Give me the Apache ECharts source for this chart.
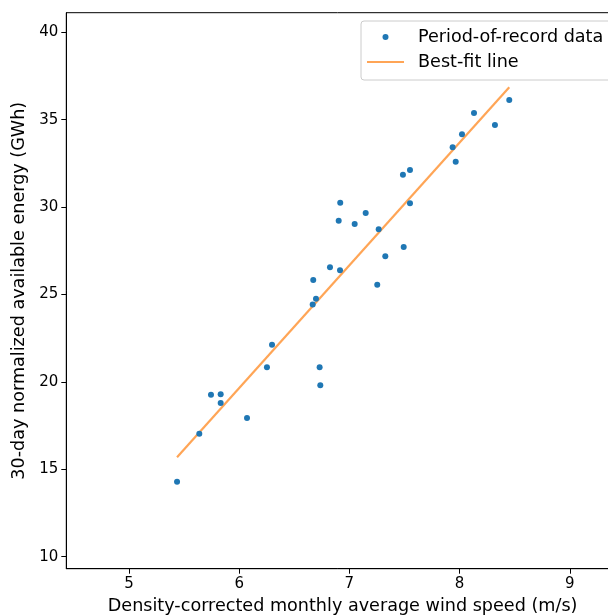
<!DOCTYPE html>
<html>
<head>
<meta charset="utf-8">
<script src="https://cdn.jsdelivr.net/npm/echarts@6/dist/echarts.min.js"></script>
<style>
  html, body { margin: 0; padding: 0; background: #fff; }
  #chart { width: 608px; height: 616px; }
</style>
</head>
<body>
<div id="chart"></div>
<script>
// Monthly wind speed (m/s) vs 30-day normalized available energy (GWh)
const windSpeed = [
  8.451, 8.131, 8.321, 8.022, 7.937, 7.965,
  7.550, 7.486, 7.550, 6.917, 6.903, 7.148, 7.048, 7.266, 7.493, 7.326,
  6.824, 6.915, 6.672, 7.253, 6.697, 6.667,
  6.298, 6.252, 6.730, 6.736, 5.744, 5.832, 5.832, 6.071, 5.638, 5.436
];
const energy = [
  36.13, 35.38, 34.70, 34.16, 33.42, 32.60,
  32.12, 31.85, 30.22, 30.25, 29.22, 29.66, 29.03, 28.73, 27.72, 27.19,
  26.56, 26.38, 25.83, 25.56, 24.76, 24.42,
  22.13, 20.84, 20.84, 19.81, 19.27, 19.29, 18.79, 17.93, 17.04, 14.29
];
// Best-fit line end points
const fitX = [5.436, 8.451];
const fitY = [15.69, 36.85];

const xTicks = [5, 6, 7, 8, 9];
const yTicks = [10, 15, 20, 25, 30, 35, 40];

const xRange = [4.431, 9.446];
const yRange = [9.313, 41.12];

const FONT = 'DejaVu Sans';
const TICK_SIZE = 15;
const LABEL_SIZE = 17.6;

const chart = echarts.init(document.getElementById('chart'), null, { renderer: 'canvas' });

const scatterData = windSpeed.map((x, i) => [x, energy[i]]);
const lineData = fitX.map((x, i) => [x, fitY[i]]);

chart.setOption({
  animation: false,
  backgroundColor: '#fff',
  grid: {
    left: 66.3, top: 12.7, width: 552.6, height: 556,
    outerBoundsMode: 'none', containLabel: false,
    show: true, borderColor: '#000', borderWidth: 1, backgroundColor: 'transparent'
  },
  legend: {
    left: 361, top: 21,
    orient: 'vertical',
    padding: [7, 12, 9, 5],
    itemWidth: 37, itemHeight: 6, itemGap: 7,
    backgroundColor: 'rgba(255,255,255,0.8)',
    borderColor: '#cccccc', borderWidth: 1, borderRadius: 3,
    textStyle: { fontFamily: FONT, fontSize: LABEL_SIZE, color: '#000', padding: [0, 0, 0, 9] },
    data: [
      { name: 'Period-of-record data', icon: 'circle' },
      { name: 'Best-fit line', itemStyle: { opacity: 0 } }
    ]
  },
  xAxis: {
    type: 'value', min: xRange[0], max: xRange[1],
    name: 'Density-corrected monthly average wind speed (m/s)',
    nameLocation: 'middle', nameGap: 29,
    nameTextStyle: { fontFamily: FONT, fontSize: LABEL_SIZE, color: '#000' },
    axisLine: { show: true, onZero: false, lineStyle: { color: '#000', width: 1 } },
    axisTick: { show: true, length: 5, customValues: xTicks, lineStyle: { color: '#000' } },
    axisLabel: { customValues: xTicks, fontFamily: FONT, fontSize: TICK_SIZE, color: '#000', margin: 8 },
    splitLine: { show: false }
  },
  yAxis: {
    type: 'value', min: yRange[0], max: yRange[1],
    name: '30-day normalized available energy (GWh)',
    nameLocation: 'middle', nameGap: 29,
    nameTextStyle: { fontFamily: FONT, fontSize: LABEL_SIZE, color: '#000' },
    axisLine: { show: true, onZero: false, lineStyle: { color: '#000', width: 1 } },
    axisTick: { show: true, length: 5, customValues: yTicks, lineStyle: { color: '#000' } },
    axisLabel: { customValues: yTicks, fontFamily: FONT, fontSize: TICK_SIZE, color: '#000', margin: 8 },
    splitLine: { show: false }
  },
  series: [
    {
      name: 'Period-of-record data',
      type: 'scatter',
      data: scatterData,
      symbol: 'circle',
      symbolSize: 6,
      itemStyle: { color: '#1f77b4', opacity: 1 },
      z: 3
    },
    {
      name: 'Best-fit line',
      type: 'line',
      data: lineData,
      showSymbol: false,
      symbol: 'none',
      lineStyle: { color: '#ff7f0e', opacity: 0.7, width: 2.2 },
      itemStyle: { color: '#ffa556' },
      z: 2
    }
  ]
});
</script>
</body>
</html>
